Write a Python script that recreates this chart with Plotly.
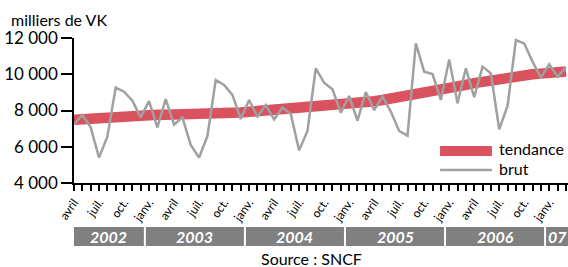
import plotly.graph_objects as go

# ---- data ----
months = [f"{2002 + (3 + i) // 12}-{(3 + i) % 12 + 1:02d}" for i in range(60)]  # 2002-04 .. 2007-03
brut = [7240, 7750, 7070, 5400, 6560, 9260, 9040, 8540, 7620,
        8520, 7070, 8630, 7220, 7620, 6100, 5400, 6590, 9680, 9410, 8860, 7530,
        8580, 7660, 8300, 7510, 8160, 7810, 5800, 6870, 10330, 9530, 9170, 7880,
        8800, 7440, 9020, 8030, 8760, 7940, 6870, 6610, 11700, 10140, 10010, 8580,
        10820, 8400, 10330, 8730, 10420, 10050, 6960, 8250, 11890, 11700, 10690, 9810,
        10550, 9870, 10380]
tendance = [7490, 7530, 7570, 7610, 7640, 7670, 7700, 7720, 7740,
            7750, 7760, 7770, 7770, 7770, 7775, 7780, 7790, 7810, 7830, 7860, 7890,
            7930, 7960, 7990, 8020, 8050, 8080, 8115, 8150, 8185, 8220, 8255, 8290,
            8335, 8390, 8450, 8510, 8580, 8650, 8720, 8790, 8860, 8930, 9000, 9080,
            9190, 9300, 9410, 9510, 9600, 9690, 9770, 9840, 9900, 9950, 9995, 10035,
            10075, 10115, 10150]
month_names = {1: "janv.", 4: "avril", 7: "juil.", 10: "oct."}
years = ["2002", "2003", "2004", "2005", "2006", "07"]
y_ticks = [4000, 6000, 8000, 10000, 12000]
y_tick_text = ["4 000", "6 000", "8 000", "10 000", "12 000"]

RED = "#d9525e"
GREY = "#a0a0a0"
BAND = "#808080"
FONT = "Lato"

x = list(range(len(months)))
tick_text = [month_names.get(int(m[5:]), "") for m in months]

fig = go.Figure()
fig.add_trace(go.Scatter(x=x, y=tendance, mode="lines", name="tendance",
                         line=dict(color=RED, width=10.5), showlegend=False))
fig.add_trace(go.Scatter(x=x, y=brut, mode="lines", name="brut",
                         line=dict(color=GREY, width=2.5), showlegend=False))

xmax = 59.25

# year bands
shapes = []
annotations = []
year_idx = [int(m[:4]) for m in months]
for yname in years:
    full = int(yname) if len(yname) == 4 else 2000 + int(yname)
    idx = [i for i, yy in enumerate(year_idx) if yy == full]
    x0 = idx[0] - 0.5 + 0.12 if idx[0] > 0 else 0
    x1 = min(idx[-1] + 0.5 - 0.12, xmax + 1)
    shapes.append(dict(type="rect", xref="x", yref="paper", x0=x0, x1=x1,
                       y0=-0.4345, y1=-0.3034, fillcolor=BAND, line=dict(width=0),
                       layer="above"))
    annotations.append(dict(xref="x", yref="paper", x=(x0 + min(x1, xmax)) / 2,
                            y=-0.369, text=f"<b><i>{yname}</i></b>", showarrow=False,
                            font=dict(family=FONT, size=16, color="white"),
                            xanchor="center", yanchor="middle"))

# custom legend
shapes.append(dict(type="rect", xref="paper", yref="paper", x0=0.741, x1=0.846,
                   y0=0.1862, y1=0.2552, fillcolor=RED, line=dict(width=0)))
shapes.append(dict(type="line", xref="paper", yref="paper", x0=0.741, x1=0.846,
                   y0=0.0897, y1=0.0897, line=dict(color=GREY, width=2.5)))
annotations.append(dict(xref="paper", yref="paper", x=0.856, y=0.237, text="tendance",
                        showarrow=False, xanchor="left", yanchor="middle",
                        font=dict(family=FONT, size=16, color="black")))
annotations.append(dict(xref="paper", yref="paper", x=0.856, y=0.10, text="brut",
                        showarrow=False, xanchor="left", yanchor="middle",
                        font=dict(family=FONT, size=16, color="black")))

annotations.append(dict(xref="paper", yref="paper", x=-0.1316, y=1.131,
                        text="milliers de VK", showarrow=False, xanchor="left",
                        yanchor="middle", font=dict(family=FONT, size=16, color="black")))
annotations.append(dict(xref="paper", yref="paper", x=0.48, y=-0.524,
                        text="Source : SNCF", showarrow=False, xanchor="center",
                        yanchor="middle", font=dict(family=FONT, size=16, color="black")))

fig.update_layout(
    width=568, height=267,
    margin=dict(l=74, r=0, t=38, b=84, pad=0),
    plot_bgcolor="white", paper_bgcolor="white",
    font=dict(family=FONT, color="black"),
    shapes=shapes, annotations=annotations,
    xaxis=dict(range=[0, xmax], tickvals=x, ticktext=tick_text, tickangle=-55,
               ticks="outside", ticklen=6, tickwidth=1.5, tickcolor="black",
               showline=True, linecolor="black", linewidth=1.5, automargin=False,
               showgrid=False, zeroline=False, tickfont=dict(size=12, family=FONT)),
    yaxis=dict(range=[4000, 12000], tickvals=y_ticks, ticktext=y_tick_text,
               ticks="outside", ticklen=11, tickwidth=1.5, tickcolor="black",
               showline=True, linecolor="black", linewidth=1.5, automargin=False,
               showgrid=False, zeroline=False, tickfont=dict(size=17, family=FONT)),
)

fig.write_html(
    "out.html",
    config={"displayModeBar": False},
    post_script="document.body.style.margin='0';document.body.style.padding='0';"
                "document.documentElement.style.overflow='hidden';",
)
